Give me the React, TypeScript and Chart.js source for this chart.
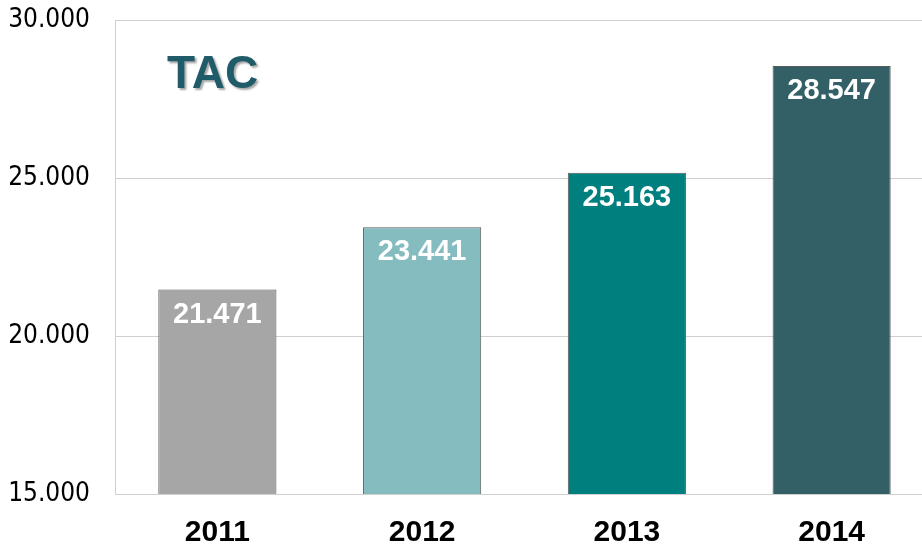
import React, { useEffect, useRef } from "react";
import { Chart, registerables } from "chart.js";

Chart.register(...registerables);

const years = ["2011", "2012", "2013", "2014"];
const tacValues = [21471, 23441, 25163, 28547];
const valueLabels = ["21.471", "23.441", "25.163", "28.547"];
const barColors = ["#A6A6A6", "#84BCC0", "#007F7F", "#336066"];
const yMin = 15000;
const yMax = 30000;
const yStep = 5000;
const titleText = "TAC";

function fmtThousands(v: number): string {
  const s = Math.round(v).toString();
  return s.replace(/\B(?=(\d{3})+(?!\d))/g, ".");
}

const titlePlugin = {
  id: "tacTitle",
  afterDraw(chart: any) {
    const ctx = chart.ctx;
    ctx.save();
    ctx.font = "bold 46px 'Liberation Sans', Arial, sans-serif";
    ctx.textAlign = "left";
    ctx.textBaseline = "alphabetic";
    ctx.shadowColor = "rgba(0,0,0,0.35)";
    ctx.shadowOffsetX = 2;
    ctx.shadowOffsetY = 2;
    ctx.shadowBlur = 2;
    ctx.fillStyle = "#1F5B68";
    ctx.fillText(titleText, chart.chartArea.left + 52, chart.chartArea.top + 68);
    ctx.restore();
  },
};

const valueLabelPlugin = {
  id: "valueLabels",
  afterDatasetsDraw(chart: any) {
    const ctx = chart.ctx;
    const meta = chart.getDatasetMeta(0);
    ctx.save();
    ctx.font = "bold 29px 'Liberation Sans', Arial, sans-serif";
    ctx.fillStyle = "#FFFFFF";
    ctx.textAlign = "center";
    ctx.textBaseline = "middle";
    meta.data.forEach((bar: any, i: number) => {
      ctx.fillText(valueLabels[i], bar.x, bar.y + 25);
    });
    ctx.restore();
  },
};

export default function App() {
  const canvasRef = useRef<HTMLCanvasElement | null>(null);

  useEffect(() => {
    if (!canvasRef.current) return;
    const chart = new Chart(canvasRef.current, {
      type: "bar",
      data: {
        labels: years,
        datasets: [
          {
            label: titleText,
            data: tacValues,
            backgroundColor: barColors,
            borderColor: "#5A5A5A",
            borderWidth: 1,
            borderSkipped: false,
            categoryPercentage: 1,
            barPercentage: 0.577,
          },
        ],
      },
      options: {
        responsive: false,
        animation: false,
        devicePixelRatio: 1,
        layout: { padding: { top: 20, left: 0, right: 0, bottom: 0 } },
        plugins: {
          legend: { display: false },
          tooltip: { enabled: false },
          title: { display: false },
        },
        scales: {
          x: {
            grid: { display: false },
            border: { display: true, color: "#D0D0D0", width: 1 },
            ticks: {
              color: "#000000",
              padding: 13,
              font: { family: "'Liberation Sans', Arial, sans-serif", size: 30, weight: "bold" },
            },
            afterFit(scale: any) {
              scale.height = 50;
              scale.paddingLeft = 0;
              scale.paddingRight = 0;
            },
          },
          y: {
            min: yMin,
            max: yMax,
            grid: { color: "#D0D0D0", drawTicks: false, lineWidth: 1 },
            border: { display: true, color: "#D0D0D0", width: 1 },
            ticks: {
              stepSize: yStep,
              color: "#000000",
              padding: 25,
              font: { family: "'DejaVu Sans Condensed', 'DejaVu Sans', sans-serif", size: 26 },
              callback: (v: any) => fmtThousands(Number(v)),
            },
            afterFit(scale: any) {
              scale.width = 115;
              scale.paddingTop = 0;
              scale.paddingBottom = 0;
            },
          },
        },
      },
      plugins: [valueLabelPlugin, titlePlugin],
    });
    return () => chart.destroy();
  }, []);

  return (
    <div
      style={{
        position: "fixed",
        left: 0,
        top: 0,
        width: 922,
        height: 544,
        overflow: "hidden",
        background: "#FFFFFF",
      }}
    >
      <canvas ref={canvasRef} width={934} height={544} style={{ width: 934, height: 544, display: "block" }} />
    </div>
  );
}
